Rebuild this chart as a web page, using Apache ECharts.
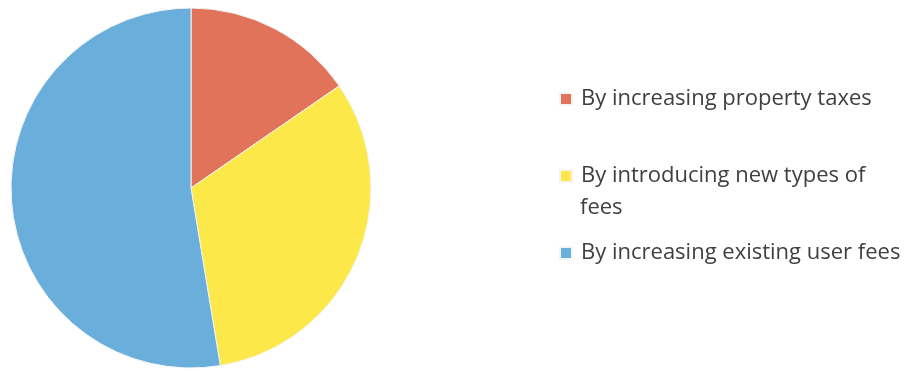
<!DOCTYPE html>
<html>
<head>
<meta charset="utf-8">
<script src="https://cdn.jsdelivr.net/npm/echarts@6/dist/echarts.min.js"></script>
<style>html,body{margin:0;padding:0;background:#fff}#c{width:908px;height:371px}</style>
</head>
<body>
<div id="c"></div>
<script>
const categories = ['By increasing property taxes', 'By introducing new types of fees', 'By increasing existing user fees'];
const values = [15.4, 32.0, 52.6];
const colors = ['#E0735A', '#FDE84A', '#6AAEDC'];

const chart = echarts.init(document.getElementById('c'), null, {renderer: 'canvas'});
const font = 'Open Sans';
const fs = 22;
const textStyle = {color: '#404040', fontFamily: font, fontSize: fs, lineHeight: 24, padding: [0, 0, 0, 4]};
function mkLegend(i, top, fmt) {
  return {
    data: [categories[i]], orient: 'vertical', left: 554, top: top,
    icon: 'rect', itemWidth: 12, itemHeight: 12, itemGap: 8,
    textStyle: textStyle, selectedMode: false,
    formatter: fmt || (n => n)
  };
}
chart.setOption({
  animation: false,
  color: colors,
  legend: [
    mkLegend(0, 82),
    mkLegend(1, 159, () => 'By introducing new types of'),
    mkLegend(2, 236)
  ],
  graphic: [{
    type: 'text', left: 580, top: 197,
    style: {text: 'fees', fill: '#404040', font: fs + 'px "' + font + '"'}
  }],
  series: [{
    type: 'pie',
    center: [191, 188],
    radius: 180,
    startAngle: 90,
    clockwise: true,
    label: {show: false},
    labelLine: {show: false},
    emphasis: {disabled: true},
    itemStyle: {borderColor: '#f4f4f4', borderWidth: 1},
    data: categories.map((c, i) => ({name: c, value: values[i]}))
  }]
});
</script>
</body>
</html>
